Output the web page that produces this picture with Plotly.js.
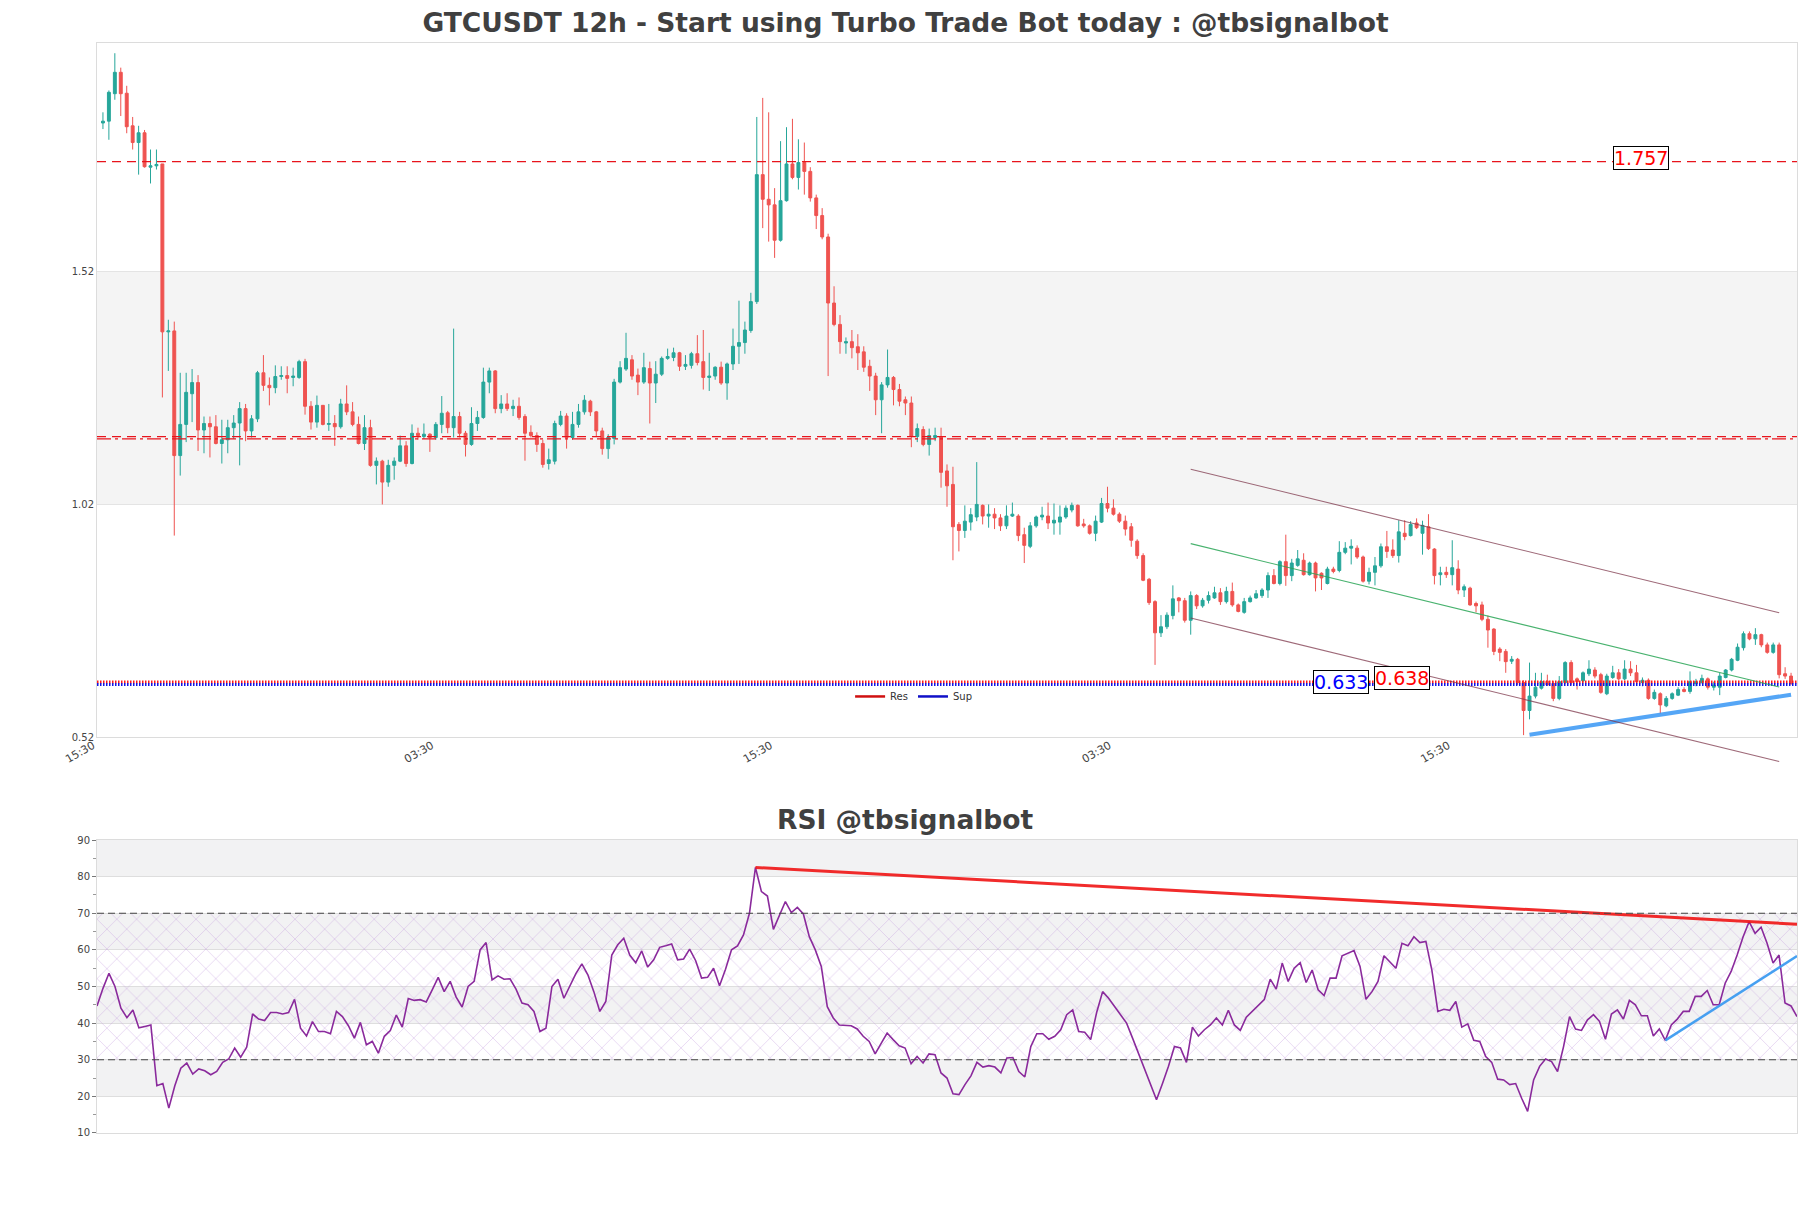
<!DOCTYPE html>
<html>
<head>
<meta charset="utf-8">
<script src="https://cdn.plot.ly/plotly-3.0.1.min.js"></script>
<style>html,body{margin:0;padding:0;background:#fff;}#chart{width:1811px;height:1208px;}</style>
</head>
<body>
<div id="chart"></div>
<script>
// ---------- DATA ----------
const openP = [
1.840,1.844,1.903,1.949,1.904,1.834,1.798,1.819,1.745,1.748,
1.752,1.391,1.393,1.125,1.192,1.258,1.282,1.180,1.194,1.187,
1.151,1.159,1.185,1.195,1.226,1.178,1.204,1.303,1.276,1.271,
1.295,1.297,1.293,1.293,1.327,1.231,1.197,1.233,1.192,1.194,
1.187,1.236,1.219,1.192,1.151,1.185,1.104,1.113,1.068,1.104,
1.113,1.146,1.108,1.173,1.166,1.171,1.164,1.192,1.217,1.185,
1.209,1.173,1.149,1.194,1.207,1.283,1.307,1.226,1.236,1.226,
1.231,1.209,1.175,1.168,1.151,1.108,1.113,1.192,1.210,1.164,
1.192,1.219,1.242,1.219,1.178,1.140,1.162,1.283,1.311,1.331,
1.298,1.283,1.312,1.281,1.300,1.334,1.336,1.346,1.317,1.319,
1.344,1.327,1.293,1.296,1.315,1.281,1.322,1.360,1.368,1.394,
1.456,1.729,1.676,1.664,1.588,1.673,1.752,1.723,1.755,1.736,
1.679,1.641,1.595,1.453,1.407,1.367,1.370,1.359,1.348,1.317,
1.296,1.245,1.277,1.293,1.267,1.245,1.238,1.166,1.181,1.149,
1.164,1.166,1.092,1.063,0.977,0.964,0.982,0.993,1.018,0.995,
0.999,0.991,0.974,0.995,0.995,0.955,0.930,0.974,0.993,0.995,
0.980,0.982,0.993,1.008,1.018,0.978,0.974,0.958,0.982,1.022,
1.012,0.999,0.984,0.972,0.941,0.910,0.859,0.811,0.744,0.757,
0.781,0.819,0.813,0.771,0.824,0.802,0.814,0.819,0.830,0.811,
0.833,0.804,0.788,0.811,0.819,0.824,0.836,0.867,0.850,0.897,
0.867,0.889,0.900,0.869,0.894,0.872,0.850,0.881,0.878,0.917,
0.926,0.926,0.907,0.855,0.874,0.888,0.929,0.922,0.910,0.958,
0.953,0.980,0.958,0.972,0.924,0.869,0.874,0.869,0.881,0.836,
0.840,0.807,0.804,0.773,0.752,0.709,0.704,0.683,0.687,0.637,
0.577,0.608,0.625,0.640,0.635,0.603,0.637,0.680,0.645,0.641,
0.656,0.664,0.654,0.613,0.648,0.658,0.645,0.666,0.658,0.637,
0.642,0.603,0.613,0.587,0.603,0.610,0.622,0.618,0.635,0.637,
0.645,0.627,0.627,0.648,0.664,0.685,0.712,0.742,0.731,0.740,
0.718,0.702,0.718,0.656,0.651];

const highP = [
1.863,1.910,1.990,1.959,1.920,1.853,1.834,1.825,1.783,1.783,
1.752,1.417,1.413,1.303,1.303,1.311,1.298,1.209,1.209,1.212,
1.202,1.202,1.212,1.240,1.236,1.212,1.307,1.341,1.293,1.319,
1.317,1.317,1.314,1.331,1.333,1.242,1.254,1.233,1.236,1.212,
1.247,1.276,1.240,1.209,1.212,1.202,1.121,1.116,1.116,1.121,
1.168,1.156,1.192,1.185,1.194,1.173,1.197,1.253,1.221,1.398,
1.219,1.178,1.229,1.221,1.314,1.314,1.309,1.255,1.259,1.245,
1.250,1.214,1.190,1.175,1.159,1.140,1.200,1.221,1.216,1.219,
1.236,1.255,1.245,1.221,1.185,1.171,1.290,1.328,1.389,1.341,
1.312,1.346,1.327,1.328,1.338,1.355,1.357,1.348,1.341,1.348,
1.384,1.395,1.346,1.317,1.327,1.325,1.398,1.458,1.413,1.475,
1.853,1.894,1.863,1.700,1.801,1.831,1.849,1.805,1.798,1.745,
1.686,1.657,1.602,1.489,1.427,1.379,1.395,1.386,1.360,1.331,
1.303,1.283,1.353,1.296,1.279,1.252,1.252,1.194,1.188,1.183,
1.185,1.185,1.106,1.101,0.982,1.018,1.012,1.111,1.020,1.020,
1.012,0.999,1.018,1.024,0.999,0.970,0.982,0.996,1.015,1.024,
1.022,1.018,1.018,1.024,1.020,0.989,0.977,0.996,1.034,1.058,
1.031,1.003,0.996,0.980,0.945,0.915,0.862,0.814,0.782,0.788,
0.846,0.821,0.819,0.833,0.827,0.819,0.833,0.843,0.840,0.843,
0.852,0.807,0.819,0.824,0.836,0.840,0.874,0.881,0.900,0.955,
0.903,0.922,0.915,0.897,0.897,0.874,0.886,0.886,0.941,0.939,
0.945,0.932,0.910,0.884,0.907,0.936,0.963,0.945,0.986,0.986,
0.984,0.990,0.985,0.999,0.926,0.886,0.886,0.943,0.900,0.848,
0.843,0.811,0.811,0.781,0.754,0.713,0.709,0.694,0.690,0.642,
0.680,0.658,0.658,0.654,0.640,0.651,0.683,0.685,0.648,0.661,
0.685,0.670,0.658,0.656,0.673,0.666,0.685,0.683,0.675,0.648,
0.646,0.622,0.616,0.608,0.616,0.627,0.627,0.661,0.645,0.654,
0.648,0.639,0.658,0.666,0.690,0.721,0.747,0.747,0.754,0.742,
0.723,0.723,0.723,0.670,0.658];

const lowP = [
1.827,1.804,1.890,1.855,1.818,1.783,1.729,1.744,1.710,1.740,
1.250,1.307,0.953,1.082,1.154,1.197,1.135,1.130,1.121,1.149,
1.108,1.130,1.161,1.104,1.156,1.164,1.197,1.264,1.233,1.259,
1.288,1.259,1.274,1.290,1.213,1.181,1.185,1.190,1.178,1.146,
1.183,1.212,1.188,1.149,1.137,1.101,1.063,1.020,1.058,1.073,
1.111,1.101,1.106,1.159,1.161,1.133,1.159,1.173,1.173,1.164,
1.164,1.123,1.146,1.178,1.204,1.259,1.216,1.216,1.221,1.210,
1.202,1.114,1.164,1.133,1.099,1.095,1.106,1.188,1.140,1.159,
1.185,1.213,1.210,1.166,1.127,1.118,1.149,1.280,1.307,1.288,
1.255,1.279,1.194,1.238,1.296,1.331,1.328,1.307,1.309,1.312,
1.319,1.267,1.264,1.288,1.277,1.245,1.309,1.322,1.344,1.389,
1.451,1.614,1.585,1.550,1.585,1.671,1.719,1.697,1.686,1.671,
1.612,1.590,1.296,1.403,1.344,1.344,1.334,1.309,1.305,1.264,
1.212,1.173,1.271,1.233,1.231,1.212,1.143,1.154,1.145,1.125,
1.156,1.056,1.015,0.900,0.919,0.948,0.964,0.984,0.977,0.970,
0.967,0.963,0.967,0.993,0.941,0.894,0.926,0.970,0.986,0.967,
0.955,0.955,0.989,1.003,0.972,0.970,0.955,0.941,0.980,1.003,
0.996,0.980,0.953,0.929,0.903,0.855,0.804,0.675,0.735,0.752,
0.773,0.788,0.766,0.740,0.795,0.798,0.807,0.817,0.804,0.807,
0.800,0.788,0.785,0.809,0.817,0.819,0.819,0.848,0.846,0.845,
0.855,0.886,0.867,0.867,0.833,0.836,0.848,0.872,0.874,0.913,
0.891,0.903,0.852,0.848,0.846,0.884,0.905,0.905,0.895,0.943,
0.951,0.967,0.912,0.922,0.848,0.846,0.862,0.846,0.827,0.821,
0.802,0.788,0.769,0.712,0.696,0.683,0.658,0.677,0.632,0.524,
0.558,0.603,0.622,0.630,0.597,0.599,0.635,0.632,0.622,0.637,
0.651,0.646,0.613,0.610,0.645,0.642,0.642,0.651,0.635,0.629,
0.600,0.600,0.570,0.584,0.600,0.608,0.616,0.613,0.629,0.635,
0.622,0.620,0.610,0.646,0.661,0.683,0.706,0.728,0.718,0.713,
0.699,0.699,0.646,0.645,0.632];

const closeP = [
1.844,1.906,1.949,1.903,1.832,1.798,1.819,1.746,1.748,1.751,
1.391,1.393,1.125,1.192,1.261,1.282,1.180,1.194,1.187,1.151,
1.159,1.185,1.195,1.226,1.178,1.204,1.303,1.276,1.271,1.295,
1.297,1.291,1.296,1.327,1.231,1.197,1.233,1.192,1.194,1.187,
1.236,1.219,1.192,1.151,1.185,1.104,1.113,1.068,1.104,1.113,
1.146,1.108,1.173,1.168,1.171,1.164,1.192,1.216,1.185,1.209,
1.173,1.149,1.194,1.207,1.283,1.307,1.226,1.236,1.226,1.231,
1.207,1.173,1.168,1.149,1.106,1.116,1.194,1.210,1.164,1.192,
1.219,1.244,1.219,1.178,1.140,1.164,1.283,1.314,1.334,1.296,
1.283,1.314,1.281,1.300,1.334,1.338,1.346,1.317,1.321,1.344,
1.325,1.293,1.296,1.315,1.281,1.322,1.360,1.368,1.395,1.456,
1.729,1.676,1.664,1.588,1.673,1.752,1.723,1.755,1.736,1.679,
1.641,1.595,1.453,1.407,1.370,1.370,1.357,1.346,1.315,1.296,
1.245,1.277,1.293,1.267,1.242,1.238,1.166,1.183,1.149,1.168,
1.168,1.089,1.060,0.972,0.964,0.984,0.998,1.020,0.995,0.999,
0.991,0.974,0.995,0.999,0.953,0.932,0.974,0.993,0.997,0.980,
0.986,0.993,1.012,1.018,0.974,0.974,0.958,0.984,1.022,1.012,
0.999,0.984,0.967,0.943,0.910,0.857,0.809,0.744,0.757,0.782,
0.817,0.813,0.771,0.824,0.802,0.814,0.824,0.830,0.811,0.833,
0.804,0.790,0.811,0.819,0.828,0.836,0.867,0.850,0.897,0.867,
0.894,0.903,0.869,0.894,0.862,0.862,0.881,0.876,0.917,0.926,
0.930,0.907,0.855,0.874,0.888,0.929,0.919,0.910,0.961,0.951,
0.977,0.970,0.975,0.925,0.867,0.873,0.869,0.884,0.836,0.843,
0.804,0.802,0.773,0.750,0.704,0.702,0.682,0.687,0.637,0.577,
0.608,0.627,0.639,0.632,0.603,0.639,0.680,0.637,0.639,0.658,
0.666,0.651,0.616,0.651,0.658,0.645,0.666,0.658,0.639,0.642,
0.603,0.616,0.589,0.603,0.613,0.622,0.618,0.639,0.639,0.646,
0.627,0.632,0.651,0.664,0.687,0.713,0.742,0.731,0.740,0.718,
0.702,0.718,0.654,0.651,0.635];

const rsiVals = [
44.7,49.5,53.6,50.0,44.1,41.5,43.6,38.7,39.1,39.5,
22.9,23.5,16.8,22.9,27.7,29.1,26.1,27.5,27.0,25.9,
26.8,29.3,30.2,33.2,30.7,33.4,42.5,41.1,40.7,42.9,
42.9,42.5,42.9,46.5,38.6,36.5,40.4,37.7,37.7,37.1,
43.2,41.8,39.3,35.9,40.2,34.1,35.0,31.8,36.4,38.0,
42.2,38.9,46.7,46.2,46.4,45.8,49.1,52.5,48.6,51.4,
47.1,44.4,50.0,51.4,60.0,62.0,51.8,52.9,52.0,52.1,
49.3,45.5,45.0,43.2,37.7,38.6,50.0,52.0,46.8,50.0,
53.5,56.2,53.2,48.6,43.2,45.9,58.6,61.4,63.2,58.6,
56.5,59.7,55.3,57.3,60.7,61.1,61.6,57.3,57.5,60.2,
57.1,52.3,52.5,55.0,50.2,54.7,60.0,61.1,64.1,70.0,
82.5,75.9,74.7,65.6,69.3,73.2,70.2,71.6,69.8,63.6,
60.0,55.5,44.5,41.4,39.5,39.5,39.3,38.4,36.4,35.0,
31.6,34.5,37.3,35.5,33.8,33.2,28.9,30.9,29.1,31.6,
31.4,26.4,25.0,20.7,20.5,23.2,25.6,29.3,28.0,28.4,
28.0,26.4,30.5,30.6,26.8,25.3,33.6,37.1,37.1,35.6,
36.4,38.2,42.3,43.6,37.7,37.5,35.5,42.9,48.6,46.8,
44.5,42.3,40.0,35.9,31.8,27.3,23.2,19.1,23.5,28.2,
33.6,33.2,29.3,38.9,36.5,38.2,39.5,41.4,39.5,43.5,
39.5,38.0,41.6,43.2,44.7,46.4,52.0,49.3,56.4,51.4,
55.0,56.5,51.1,54.5,49.1,47.5,52.3,52.3,58.4,59.1,
59.8,55.5,46.5,48.6,51.4,58.4,56.8,55.0,61.8,61.1,
63.6,62.0,62.3,54.5,43.2,43.8,43.5,45.9,38.9,39.8,
35.3,35.0,30.9,29.3,24.7,24.5,23.2,23.5,19.5,15.9,
24.5,28.2,30.2,29.5,26.8,33.6,41.8,38.4,38.0,40.9,
42.3,40.5,35.6,42.5,43.6,41.1,46.2,45.0,42.0,42.0,
36.5,38.4,35.3,39.5,41.1,43.2,43.2,47.3,47.3,48.9,
45.0,45.0,50.9,54.1,58.6,63.6,67.7,64.5,66.2,61.8,
56.4,58.6,45.5,44.7,41.8];

// x-axis tick labels (candle index -> time label)
const xTickVals = [-1, 56, 113, 170, 227];
const xTickText = ['15:30', '03:30', '15:30', '03:30', '15:30'];
const yTickVals = [0.52, 1.02, 1.52];
const rsiTickVals = [10, 20, 30, 40, 50, 60, 70, 80, 90];

// resistance / support levels
const resMain = 1.757;
const resMid = [1.1656, 1.1608];
const resLow = 0.638;
const supLow = 0.633;

// price channel: [startIndex, endIndex], mid line values, half width
const chanIdx = [183, 282];
const chanMid = [0.9357, 0.6273];
const chanHalf = 0.160;
// support trend on price
const supTrendIdx = [240, 284];
const supTrendVal = [0.525, 0.611];
// RSI trend lines
const rsiResIdx = [110, 284];
const rsiResVal = [82.5, 67.0];
const rsiSupIdx = [262, 284];
const rsiSupVal = [35.3, 58.3];
const rsiZone = [30, 70];

// ---------- BUILD ----------
const N = openP.length;
const idx = openP.map((_, i) => i);
const xRange = [-1, N];
const rsiIdx = rsiVals.map((_, i) => i);
const yRange = [0.52, 2.012];

// geometry (px) for plot area
const W = 1811, H = 1208, M = {l: 97, r: 14, t: 43, b: 75};
const plotH = H - M.t - M.b;
const mainDom = [0.3633, 1];
const pxPerUnit = (mainDom[1] - mainDom[0]) * plotH / (yRange[1] - yRange[0]);
const extPx = 32; // overlay subplot that lets the channel run a little below the price panel
const ovDom = [mainDom[0] - extPx / plotH, 1];
const ovRange = [yRange[0] - extPx / pxPerUnit, yRange[1]];

const RED = '#e8141c', BLUE = '#1414e6';
const FONT = 'DejaVu Sans, Verdana, sans-serif';

const traces = [];
traces.push({
  type: 'candlestick', x: idx, open: openP, high: highP, low: lowP, close: closeP,
  xaxis: 'x', yaxis: 'y', showlegend: false, whiskerwidth: 0,
  increasing: {line: {color: '#26a69a', width: 1}, fillcolor: '#26a69a'},
  decreasing: {line: {color: '#ef5350', width: 1}, fillcolor: '#ef5350'},
  hoverinfo: 'skip'
});
// resistance lines
traces.push({x: xRange, y: [resMain, resMain], mode: 'lines', xaxis: 'x', yaxis: 'y',
  line: {color: RED, width: 1.4, dash: '9px,6px'}, showlegend: false, hoverinfo: 'skip'});
traces.push({x: xRange, y: [resMid[0], resMid[0]], mode: 'lines', xaxis: 'x', yaxis: 'y',
  line: {color: RED, width: 1.2, dash: '9px,6px'}, showlegend: false, hoverinfo: 'skip'});
traces.push({x: xRange, y: [resMid[1], resMid[1]], mode: 'lines', xaxis: 'x', yaxis: 'y',
  line: {color: RED, width: 1.2, dash: '14px,4px,3px,4px'}, showlegend: false, hoverinfo: 'skip'});
traces.push({x: xRange, y: [resLow, resLow], mode: 'lines', xaxis: 'x', yaxis: 'y',
  line: {color: '#ff1a1a', width: 3, dash: '1.5px,1.5px'}, showlegend: false, hoverinfo: 'skip'});
traces.push({x: xRange, y: [supLow, supLow], mode: 'lines', xaxis: 'x', yaxis: 'y',
  line: {color: BLUE, width: 3, dash: '1.5px,1.5px'}, showlegend: false, hoverinfo: 'skip'});
// legend entries
traces.push({x: [null], y: [null], mode: 'lines', xaxis: 'x', yaxis: 'y', name: 'Res',
  line: {color: '#d01010', width: 2.5}, showlegend: true});
traces.push({x: [null], y: [null], mode: 'lines', xaxis: 'x', yaxis: 'y', name: 'Sup',
  line: {color: '#1010c8', width: 2.5}, showlegend: true});
traces.push({x: supTrendIdx, y: supTrendVal, mode: 'lines', xaxis: 'x', yaxis: 'y',
  line: {color: 'rgba(55,150,245,0.85)', width: 4}, showlegend: false, hoverinfo: 'skip'});
// channel (on overlay subplot with identical scale, extended downward)
const chanColor = 'rgba(125,55,75,0.75)';
traces.push({x: chanIdx, y: chanMid.map(v => v + chanHalf), mode: 'lines', xaxis: 'x3', yaxis: 'y3',
  line: {color: chanColor, width: 1.1}, showlegend: false, hoverinfo: 'skip'});
traces.push({x: chanIdx, y: chanMid, mode: 'lines', xaxis: 'x3', yaxis: 'y3',
  line: {color: 'rgba(40,165,85,0.85)', width: 1.1}, showlegend: false, hoverinfo: 'skip'});
traces.push({x: chanIdx, y: chanMid.map(v => v - chanHalf), mode: 'lines', xaxis: 'x3', yaxis: 'y3',
  line: {color: chanColor, width: 1.1}, showlegend: false, hoverinfo: 'skip'});

// RSI hatch zone
traces.push({x: [0, N - 1, N - 1, 0, 0], y: [rsiZone[0], rsiZone[0], rsiZone[1], rsiZone[1], rsiZone[0]],
  xaxis: 'x2', yaxis: 'y2', mode: 'lines', fill: 'toself', fillcolor: 'rgba(0,0,0,0)',
  fillpattern: {shape: 'x', fgcolor: 'rgba(185,140,215,0.65)', bgcolor: 'rgba(0,0,0,0)', size: 14, solidity: 0.07},
  line: {width: 0}, showlegend: false, hoverinfo: 'skip'});
traces.push({x: rsiIdx, y: rsiVals, mode: 'lines', xaxis: 'x2', yaxis: 'y2',
  line: {color: '#8a2a9c', width: 1.6}, showlegend: false, hoverinfo: 'skip'});
traces.push({x: rsiResIdx, y: rsiResVal, mode: 'lines', xaxis: 'x2', yaxis: 'y2',
  line: {color: 'rgba(240,20,20,0.9)', width: 3}, showlegend: false, hoverinfo: 'skip'});
traces.push({x: rsiSupIdx, y: rsiSupVal, mode: 'lines', xaxis: 'x2', yaxis: 'y2',
  line: {color: 'rgba(60,155,240,0.95)', width: 2.5}, showlegend: false, hoverinfo: 'skip'});

// shapes: alternating bands + RSI 70/30 dashed
const shapes = [];
for (let k = 1; k + 1 < yTickVals.length; k += 2) {
  shapes.push({type: 'rect', xref: 'x domain', yref: 'y', x0: 0, x1: 1, y0: yTickVals[k], y1: yTickVals[k + 1],
    fillcolor: '#f4f4f4', line: {width: 0}, layer: 'below'});
}
for (let k = 1; k + 1 < rsiTickVals.length; k += 2) {
  shapes.push({type: 'rect', xref: 'x2 domain', yref: 'y2', x0: 0, x1: 1, y0: rsiTickVals[k], y1: rsiTickVals[k + 1],
    fillcolor: '#f2f2f3', line: {width: 0}, layer: 'below'});
}
rsiZone.forEach(v => shapes.push({type: 'line', xref: 'x2 domain', yref: 'y2', x0: 0, x1: 1, y0: v, y1: v,
  line: {color: '#444', width: 1.2, dash: '7px,4px'}, layer: 'above'}));

const labelFont = (c) => ({family: FONT, size: 19, color: c});
const annotations = [
  {text: 'RSI @tbsignalbot', xref: 'paper', yref: 'paper', x: 0.4756, y: 0.2876, xanchor: 'center', yanchor: 'middle',
   showarrow: false, font: {family: FONT, size: 26.5, color: '#404040', weight: 700}},
  {text: '1.757', x: 258.7, y: resMain, yshift: 4, xref: 'x', yref: 'y', showarrow: false, font: labelFont('#ff0000'),
   bgcolor: 'white', bordercolor: 'black', borderwidth: 1, borderpad: 0},
  {text: '0.638', x: 218.5, y: resLow, yshift: 4, xref: 'x', yref: 'y', showarrow: false, font: labelFont('#ff0000'),
   bgcolor: 'white', bordercolor: 'black', borderwidth: 1, borderpad: 0},
  {text: '0.633', x: 208.3, y: supLow, yshift: 2, xref: 'x', yref: 'y', showarrow: false, font: labelFont('#0000ff'),
   bgcolor: 'white', bordercolor: 'black', borderwidth: 1, borderpad: 0}
];

const layout = {
  width: W, height: H,
  margin: {l: M.l, r: M.r, t: M.t, b: M.b, pad: 0},
  paper_bgcolor: 'white', plot_bgcolor: 'rgba(0,0,0,0)',
  font: {family: FONT, color: '#444', size: 10},
  title: {text: 'GTCUSDT 12h - Start using Turbo Trade Bot today : @tbsignalbot',
          x: 0.5, xref: 'container', xanchor: 'center', y: 1 - 23 / H, yref: 'container', yanchor: 'middle',
          font: {family: FONT, size: 26.5, color: '#404040', weight: 700}},
  showlegend: true,
  legend: {orientation: 'h', x: 0.443, xanchor: 'left', y: 0.4005, yanchor: 'middle',
           bgcolor: 'rgba(0,0,0,0)', font: {family: FONT, size: 10, color: '#333'}, itemwidth: 30},
  xaxis: {domain: [0, 1], anchor: 'y', range: xRange, tickmode: 'array', tickvals: xTickVals, ticktext: xTickText,
          tickangle: -30, showgrid: false, zeroline: false, showline: true, linecolor: '#dcdcdc', mirror: true,
          ticklabelshift: -4, ticklabelstandoff: -3,
          rangeslider: {visible: false}, tickfont: {family: FONT, size: 11, color: '#444'}, fixedrange: true},
  yaxis: {domain: mainDom, anchor: 'x', range: yRange, tickmode: 'array', tickvals: yTickVals,
          ticktext: yTickVals.map(v => v.toFixed(2)), showgrid: true, gridcolor: '#e4e4e4', zeroline: false,
          showline: true, linecolor: '#dcdcdc', mirror: true, tickfont: {family: FONT, size: 10, color: '#444'}, fixedrange: true},
  xaxis3: {domain: [0, 1], anchor: 'y3', range: xRange, visible: false, fixedrange: true},
  yaxis3: {domain: ovDom, anchor: 'x3', range: ovRange, visible: false, fixedrange: true},
  xaxis2: {domain: [0, 1], anchor: 'y2', range: [0, N - 1], showticklabels: false, showgrid: false, zeroline: false,
           showline: true, linecolor: '#dcdcdc', mirror: true, ticks: '', fixedrange: true},
  yaxis2: {domain: [0, 0.2688], anchor: 'x2', range: [10, 90], tickmode: 'array', tickvals: rsiTickVals,
           ticks: 'outside', ticklen: 4, tickcolor: '#777', showgrid: true, gridcolor: '#dedede', zeroline: false,
           showline: true, linecolor: '#dcdcdc', mirror: true, tickfont: {family: FONT, size: 10, color: '#444'},
           minor: {dtick: 5, tick0: 5, ticks: 'outside', ticklen: 3, tickcolor: '#999', showgrid: false}, fixedrange: true},
  shapes: shapes,
  annotations: annotations
};

Plotly.newPlot('chart', traces, layout, {staticPlot: true, displayModeBar: false});
</script>
</body>
</html>
